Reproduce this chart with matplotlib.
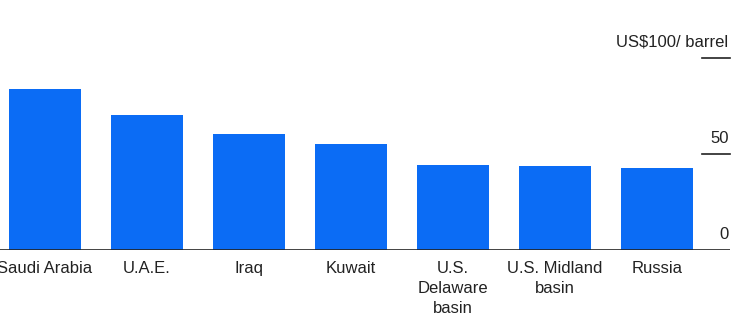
import matplotlib
matplotlib.use("Agg")
import matplotlib.pyplot as plt
import matplotlib.transforms as mtransforms

plt.rcParams['font.family'] = ['Liberation Sans', 'DejaVu Sans']

categories = ["Saudi Arabia", "U.A.E.", "Iraq", "Kuwait",
              "U.S.\nDelaware\nbasin", "U.S. Midland\nbasin", "Russia"]
values = [84, 70.5, 60.5, 55, 44.5, 44, 42.5]
tick_values = [0, 50, 100]
tick_labels = ["0", "50", "US$100/ barrel"]

fig = plt.figure(figsize=(7.4, 3.24), dpi=100)
ax = fig.add_axes([0, 74 / 324, 730 / 740, (250 - 58) / 324])

x = list(range(len(categories)))
ax.bar(x, values, width=0.70, color="#0b6cf5", zorder=2)
ax.set_xlim(-45 / 102, (730 - 45) / 102)
ax.set_ylim(0, 100)

for s in ax.spines.values():
    s.set_visible(False)
ax.axhline(0, color="#222222", lw=1.2, zorder=3)
ax.set_yticks([])
ax.set_xticks(x)
ax.set_xticklabels(categories, fontsize=12, linespacing=1.42, color="#222222")
ax.tick_params(axis="x", length=0, pad=8)

trans = mtransforms.blended_transform_factory(ax.transAxes, ax.transData)
for v, lab in zip(tick_values, tick_labels):
    if v > 0:
        ax.plot([0.962, 1.0], [v, v], color="#222222", lw=1.2,
                transform=trans, clip_on=False)
    ax.annotate(lab, xy=(1.0, v), xycoords=trans, xytext=(-1, 6),
                textcoords="offset points", ha="right", va="bottom",
                fontsize=12, color="#222222", annotation_clip=False)

fig.savefig("out.png", dpi=100)
